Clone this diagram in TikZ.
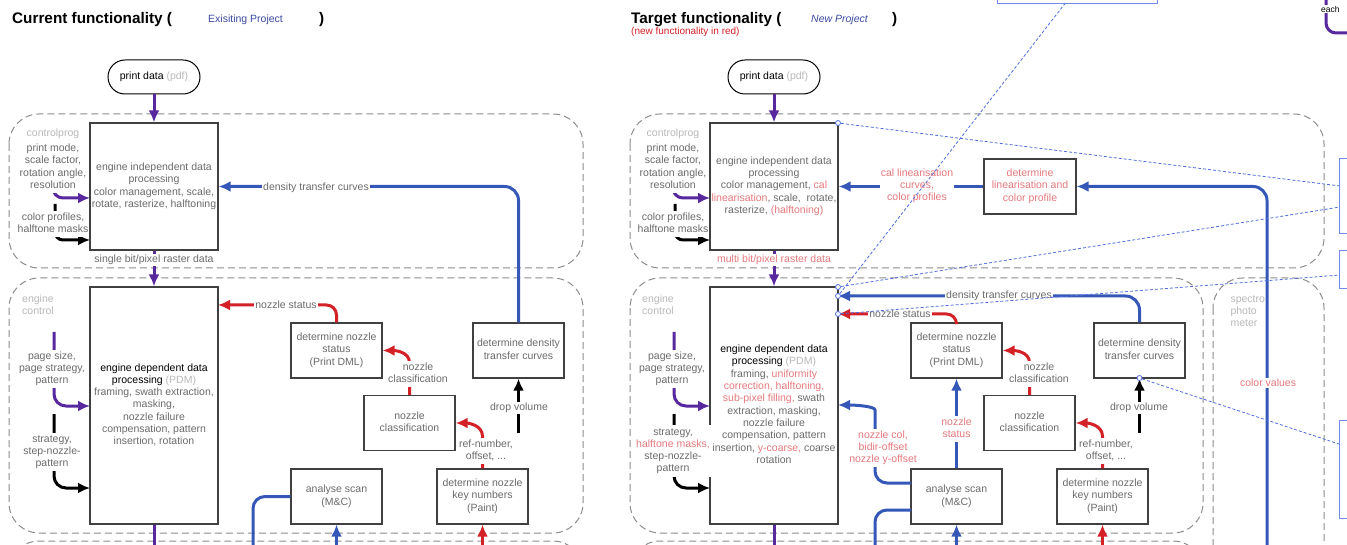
\documentclass[tikz,border=0pt]{standalone}
\usepackage{fontspec}
\setmainfont{Liberation Sans}
\usetikzlibrary{shapes,arrows.meta}

\definecolor{purp}{RGB}{88,40,158}
\definecolor{bline}{RGB}{53,88,184}
\definecolor{rline}{RGB}{212,32,39}
\definecolor{ttlblue}{RGB}{58,72,160}
\definecolor{anno}{RGB}{80,110,224}
\definecolor{grpgray}{RGB}{140,140,140}
\colorlet{blur}{black!58}
\colorlet{blurlt}{black!28}
\colorlet{blurred}{rline!60}
\setlength{\tabcolsep}{0pt}
\newcommand{\lbl}{\fontsize{10.5}{12.3}\selectfont}
\newcommand{\titlefont}{\fontsize{15.3}{18}\selectfont\bfseries}
\newcommand{\redtxt}[1]{\textcolor{blurred}{#1}}

\begin{document}
\begin{tikzpicture}[x=1pt,y=-1pt,>={Latex[length=12pt,width=11pt]},font=\lbl,
	box/.style={draw=black!75, line width=1.3pt, rectangle, fill=white, inner sep=0pt},
	smallbox/.style={box, minimum width=91pt, minimum height=55pt},
	group/.style={draw=grpgray, dash pattern=on 7pt off 4pt, line width=1pt, rounded corners=30pt},
	pline/.style={purp, line width=3pt},
	bluel/.style={bline, line width=3pt},
	redl/.style={rline, line width=3pt},
	blackl/.style={black, line width=3pt},
	annol/.style={anno, dash pattern=on 3pt off 2pt, line width=0.8pt},
	lab/.style={fill=white, inner sep=1pt},
	ring/.style={circle, draw=anno, fill=white, inner sep=0pt, minimum size=5pt, line width=0.8pt}]
	\useasboundingbox (0,0) rectangle (1347,545);
	\clip (0,0) rectangle (1347,545);

	% groups
	\draw[group] (9,114) rectangle (583,268);
	\draw[group] (9,278) rectangle (583,533);
	\draw[group] (9,541) rectangle (583,800);
	\draw[group] (630,114) rectangle (1324,268);
	\draw[group] (630,278) rectangle (1203,533);
	\draw[group] (1213,278) rectangle (1324,800);
	\draw[group] (630,541) rectangle (1203,800);

	% titles
	\node[anchor=base west, inner sep=0pt, font=\titlefont] (cur) at (12,23.5) {Current functionality (};
	\node[anchor=base west, inner sep=0pt, text=ttlblue, font=\fontsize{10.5}{12}\selectfont] (curproj) at (208,22.5) {Exisiting Project};
	\node[anchor=base west, inner sep=0pt, font=\titlefont] (curclose) at (319,23.5) {)};
	\node[anchor=base west, inner sep=0pt, font=\titlefont] (tgt) at (631,23.5) {Target functionality (};
	\node[anchor=base west, inner sep=0pt, text=ttlblue, font=\fontsize{10.5}{12}\selectfont\itshape] (tgtproj) at (811,22.5) {New Project};
	\node[anchor=base west, inner sep=0pt, font=\titlefont] (tgtclose) at (892,23.5) {)};
	\node[anchor=base west, inner sep=0pt, text=rline, font=\fontsize{10}{11}\selectfont] (tgtnote) at (631,35) {(new functionality in red)};

	% current functionality
	\node[draw, line width=1pt, rounded corners=17pt, minimum width=92pt, minimum height=34pt] (data) at (154,77) {print data \textcolor{blurlt}{(pdf)}};
	\node[box, minimum width=128pt, minimum height=127pt, text=blur] (indep) at (154,186.5) {\begin{tabular}{c} engine independent data \\ processing \\ color management, scale, \\ rotate, rasterize, halftoning \end{tabular}};
	\node[box, minimum width=128pt, minimum height=237pt, text=blur] (dep) at (154,405.5) {\begin{tabular}{c} \textcolor{black}{engine dependent data} \\ \textcolor{black}{processing} \textcolor{blurlt}{(PDM)} \\ framing, swath extraction, \\ masking, \\ nozzle failure \\ compensation, pattern \\ insertion, rotation \end{tabular}};
	\node[smallbox, text=blur] (status) at (336.5,350.5) {\begin{tabular}{c} determine nozzle \\ status \\ (Print DML) \end{tabular}};
	\node[smallbox, text=blur] (density) at (518.5,350.5) {\begin{tabular}{c} determine density \\ transfer curves \end{tabular}};
	\node[smallbox, text=blur] (classify) at (409.5,423) {\begin{tabular}{c} nozzle \\ classification \end{tabular}};
	\node[smallbox, text=blur] (scan) at (336.5,496.5) {\begin{tabular}{c} analyse scan \\ (M\&C) \end{tabular}};
	\node[smallbox, text=blur] (keynum) at (482.5,496.5) {\begin{tabular}{c} determine nozzle \\ key numbers \\ (Paint) \end{tabular}};
	\node[text=blurlt] (ctrl) at (53,134) {controlprog};
	\node[text=blurlt] (econ) at (38,306) {\begin{tabular}{c} engine \\ control \end{tabular}};

	\coordinate (pmin) at (90,198);
	\coordinate (cpsrc) at (55,204);
	\coordinate (cpin) at (90,240);
	\coordinate (pssrc) at (54,332);
	\coordinate (psin) at (90,406);
	\coordinate (stsrc) at (54,414);
	\coordinate (stin) at (90,488);
	\coordinate (nsin) at (218,305);
	\coordinate (dvsrc) at (518.5,433);
	\coordinate (scl) at (253,560);
	\coordinate (scin) at (336.5,560);
	\coordinate (knin) at (482.5,560);
	\coordinate (botl) at (154,560);

	\draw[pline,->] (data) -- (indep);
	\draw[pline,->] (indep) -- (dep);
	\draw[pline] (dep.south) -- (botl);
	\draw[pline,->,rounded corners=10pt] (ctrl.south) |- (pmin);
	\draw[blackl,->,rounded corners=8pt] (cpsrc) |- (cpin);
	\draw[pline,->,rounded corners=12pt] (pssrc) |- (psin);
	\draw[blackl,->,rounded corners=12pt] (stsrc) |- (stin);
	\draw[bluel,->,rounded corners=14pt] (density.north) |- (indep.east);
	\draw[redl,->,rounded corners=10pt] (status.north) |- (nsin);
	\draw[redl,->] (classify.north) -- ++(0,-32) to[out=90,in=0] (status.east);
	\draw[redl,->] (keynum.north) -- ++(0,-32) to[out=90,in=0] (classify.east);
	\draw[blackl,->] (dvsrc) -- (density.south);
	\draw[bluel,rounded corners=12pt] (scan.west) -| (scl);
	\draw[bluel,->] (scin) -- (scan.south);
	\draw[redl,->] (knin) -- (keynum.south);

	\node[lab, text=blur] (pmode) at (53,167.5) {\begin{tabular}{c} print mode, \\ scale factor, \\ rotation angle, \\ resolution \end{tabular}};
	\node[lab, text=blur] (cprof) at (53,224) {\begin{tabular}{c} color profiles, \\ halftone masks \end{tabular}};
	\node[lab, text=blur] (page) at (52,369) {\begin{tabular}{c} page size, \\ page strategy, \\ pattern \end{tabular}};
	\node[lab, text=blur] (strat) at (52,452) {\begin{tabular}{c} strategy, \\ step-nozzle- \\ pattern \end{tabular}};
	\node[lab, text=blur] (raster) at (154,260) {single bit/pixel raster data};
	\node[lab, text=blur] (dtc) at (316,188) {density transfer curves};
	\node[lab, text=blur] (nstat) at (286,305) {nozzle status};
	\node[lab, text=blur] (ncls) at (418,374) {\begin{tabular}{c} nozzle \\ classification \end{tabular}};
	\node[lab, text=blur] (refn) at (486,451) {\begin{tabular}{c} ref-number, \\ offset, ... \end{tabular}};
	\node[lab, text=blur] (dvol) at (519,408) {drop volume};

	% target functionality
	\node[draw, line width=1pt, rounded corners=17pt, minimum width=92pt, minimum height=34pt] (data2) at (774,77) {print data \textcolor{blurlt}{(pdf)}};
	\node[box, minimum width=128pt, minimum height=127pt, text=blur] (indep2) at (774,186.5) {\begin{tabular}{c} engine independent data \\ processing \\ color management, \redtxt{cal} \\ \redtxt{linearisation}, scale,\ \ rotate, \\ rasterize, \redtxt{(halftoning)} \end{tabular}};
	\node[box, minimum width=128pt, minimum height=237pt, text=blur] (dep2) at (774,405.5) {\begin{tabular}{c} \textcolor{black}{engine dependent data} \\ \textcolor{black}{processing} \textcolor{blurlt}{(PDM)} \\ framing, \redtxt{uniformity} \\ \redtxt{correction, halftoning,} \\ \redtxt{sub-pixel filling,} swath \\ extraction, masking, \\ nozzle failure \\ compensation, pattern \\ insertion, \redtxt{y-coarse,} coarse \\ rotation \end{tabular}};
	\node[box, minimum width=92pt, minimum height=55pt, text=blurred] (detlin) at (1030,186.5) {\begin{tabular}{c} determine \\ linearisation and \\ color profile \end{tabular}};
	\node[smallbox, text=blur] (status2) at (956.5,350.5) {\begin{tabular}{c} determine nozzle \\ status \\ (Print DML) \end{tabular}};
	\node[smallbox, text=blur] (density2) at (1139.5,350.5) {\begin{tabular}{c} determine density \\ transfer curves \end{tabular}};
	\node[smallbox, text=blur] (classify2) at (1029.5,423) {\begin{tabular}{c} nozzle \\ classification \end{tabular}};
	\node[smallbox, text=blur] (scan2) at (956.5,496.5) {\begin{tabular}{c} analyse scan \\ (M\&C) \end{tabular}};
	\node[smallbox, text=blur] (keynum2) at (1102.5,496.5) {\begin{tabular}{c} determine nozzle \\ key numbers \\ (Paint) \end{tabular}};
	\node[text=blurlt] (ctrl2) at (673,134) {controlprog};
	\node[text=blurlt] (econ2) at (658,306) {\begin{tabular}{c} engine \\ control \end{tabular}};
	\node[text=blurlt, anchor=west] (spectro) at (1227,312) {\begin{tabular}{l} spectro \\ photo \\ meter \end{tabular}};

	\coordinate (pmin2) at (710,198);
	\coordinate (cpsrc2) at (675,204);
	\coordinate (cpin2) at (710,240);
	\coordinate (pssrc2) at (674,332);
	\coordinate (psin2) at (710,406);
	\coordinate (stsrc2) at (674,414);
	\coordinate (stin2) at (710,488);
	\coordinate (dtin2) at (838,296);
	\coordinate (nsin2) at (838,314);
	\coordinate (ncin2) at (838,405);
	\coordinate (ncup2) at (875,422);
	\coordinate (scout2) at (911,483);
	\coordinate (scoutb2) at (911,510);
	\coordinate (scl2) at (875,560);
	\coordinate (dvsrc2) at (1139.5,433);
	\coordinate (scin2) at (956.5,560);
	\coordinate (knin2) at (1102.5,560);
	\coordinate (botl2) at (774,560);
	\coordinate (specsrc) at (1267,560);

	\draw[pline,->] (data2) -- (indep2);
	\draw[pline,->] (indep2) -- (dep2);
	\draw[pline] (dep2.south) -- (botl2);
	\draw[pline,->,rounded corners=10pt] (ctrl2.south) |- (pmin2);
	\draw[blackl,->,rounded corners=8pt] (cpsrc2) |- (cpin2);
	\draw[pline,->,rounded corners=12pt] (pssrc2) |- (psin2);
	\draw[blackl,->,rounded corners=12pt] (stsrc2) |- (stin2);
	\draw[bluel,->] (detlin.west) -- (indep2.east);
	\draw[bluel,->,rounded corners=14pt] (specsrc) |- (detlin.east);
	\draw[bluel,->,rounded corners=14pt] (density2.north) |- (dtin2);
	\draw[redl,->,rounded corners=10pt] (status2.north) |- (nsin2);
	\draw[redl,->] (classify2.north) -- ++(0,-32) to[out=90,in=0] (status2.east);
	\draw[redl,->] (keynum2.north) -- ++(0,-32) to[out=90,in=0] (classify2.east);
	\draw[blackl,->] (dvsrc2) -- (density2.south);
	\draw[bluel,->] (scan2) -- (status2);
	\draw[bluel,->,rounded corners=12pt] (scout2) -| (ncup2) to[out=90,in=0] (ncin2);
	\draw[bluel,rounded corners=12pt] (scoutb2) -| (scl2);
	\draw[bluel,->] (scin2) -- (scan2.south);
	\draw[redl,->] (knin2) -- (keynum2.south);

	\node[lab, text=blur] (pmode2) at (673,167.5) {\begin{tabular}{c} print mode, \\ scale factor, \\ rotation angle, \\ resolution \end{tabular}};
	\node[lab, text=blur] (cprof2) at (673,224) {\begin{tabular}{c} color profiles, \\ halftone masks \end{tabular}};
	\node[lab, text=blur] (page2) at (672,369) {\begin{tabular}{c} page size, \\ page strategy, \\ pattern \end{tabular}};
	\node[lab, text=blur] (strat2) at (673,451) {\begin{tabular}{c} strategy, \\ \redtxt{halftone masks,} \\ step-nozzle- \\ pattern \end{tabular}};
	\node[lab, text=blurred] (raster2) at (774,260) {multi bit/pixel raster data};
	\node[lab, text=blurred] (calin) at (917,186) {\begin{tabular}{c} cal linearisation \\ curves, \\ color profiles \end{tabular}};
	\node[lab, text=blurred] (colval) at (1268,383) {color values};
	\node[lab, text=blur] (dtc2) at (999,296) {density transfer curves};
	\node[lab, text=blur] (nstat2) at (900,314) {nozzle status};
	\node[lab, text=blurred] (nstat3) at (956.5,429) {\begin{tabular}{c} nozzle \\ status \end{tabular}};
	\node[lab, text=blurred] (ncol) at (883,448) {\begin{tabular}{c} nozzle col, \\ bidir-offset \\ nozzle y-offset \end{tabular}};
	\node[lab, text=blur] (ncls2) at (1039,374) {\begin{tabular}{c} nozzle \\ classification \end{tabular}};
	\node[lab, text=blur] (refn2) at (1106,451) {\begin{tabular}{c} ref-number, \\ offset, ... \end{tabular}};
	\node[lab, text=blur] (dvol2) at (1139,408) {drop volume};

	% annotations
	\node[draw=anno!80, line width=0.8pt, minimum width=160pt, minimum height=30pt] (note) at (1077,-12) {};
	\node[draw=anno!80, line width=0.8pt, anchor=north west, minimum width=60pt, minimum height=75pt] (side1) at (1339,158) {};
	\node[draw=anno!80, line width=0.8pt, anchor=north west, minimum width=60pt, minimum height=38pt] (side2) at (1339,250) {};
	\node[draw=anno!80, line width=0.8pt, anchor=north west, minimum width=60pt, minimum height=98pt] (side3) at (1339,420) {};
	\coordinate (e1) at (1340,186);
	\coordinate (e2) at (1340,207);
	\coordinate (e3) at (1340,275);
	\coordinate (e5) at (1342,445);
	\node[ring] (r1) at (838,123) {};
	\node[ring] (r2) at (838,287) {};
	\node[ring] (r3) at (838,296) {};
	\node[ring] (r4) at (838,314) {};
	\node[ring] (r5) at (1139.5,378) {};
	\draw[annol] (r1) -- (e1);
	\draw[annol] (r2) -- (e2);
	\draw[annol] (r3) -- (note);
	\draw[annol] (r4) -- (e3);
	\draw[annol] (r5) -- (e5);

	\coordinate (eachtop) at (1326,-10);
	\coordinate (eachend) at (1360,33);
	\draw[pline,rounded corners=10pt] (eachtop) |- (eachend);
	\node[lab, anchor=west, font=\fontsize{8.5}{10}\selectfont] (each) at (1320,9) {each};
\end{tikzpicture}
\end{document}
